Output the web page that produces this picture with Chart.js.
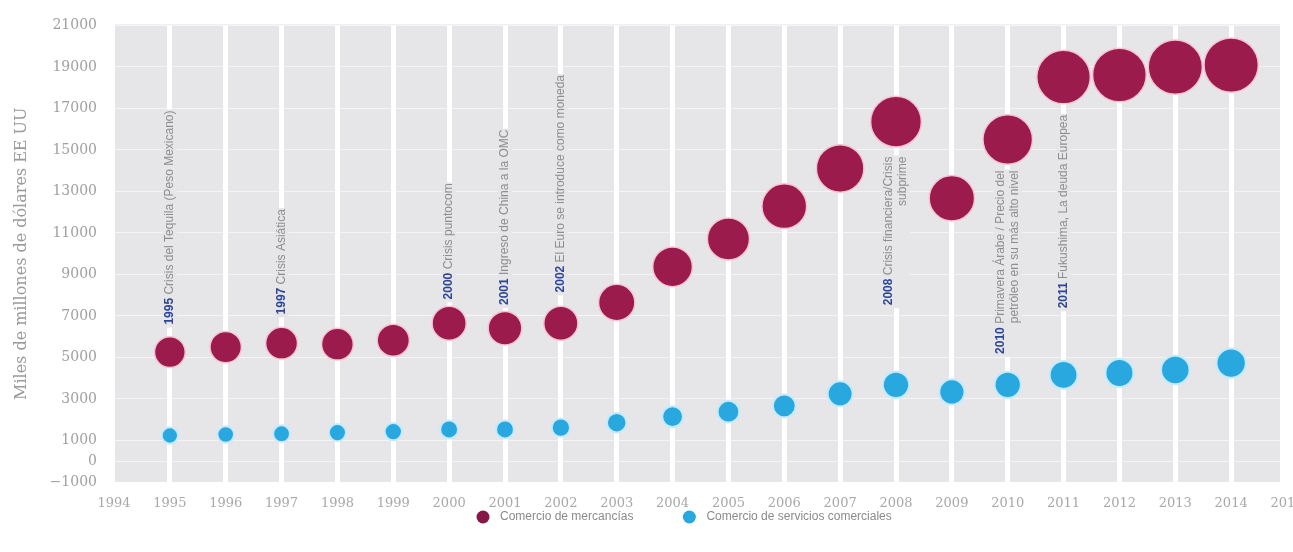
<!DOCTYPE html>
<html lang="es">
<head>
<meta charset="utf-8">
<title>Comercio mundial 1995-2014</title>
<script src="https://cdn.jsdelivr.net/npm/chart.js@4.4.1/dist/chart.umd.min.js"></script>
<style>
  html, body { margin: 0; padding: 0; background: #fff; }
  #wrap { width: 1293px; height: 552px; position: relative; }
</style>
</head>
<body>
<div id="wrap"><canvas id="chart"></canvas></div>
<script>
// años y valores en miles de millones de dólares EE UU
const years = [1995, 1996, 1997, 1998, 1999, 2000, 2001, 2002, 2003, 2004,
               2005, 2006, 2007, 2008, 2009, 2010, 2011, 2012, 2013, 2014];
const mercancias = [5260, 5500, 5690, 5640, 5830, 6650, 6410, 6650, 7650, 9370,
                    10710, 12290, 14110, 16360, 12670, 15500, 18510, 18610, 18990, 19090];
const servicios = [1240, 1290, 1330, 1380, 1430, 1530, 1530, 1620, 1860, 2150,
                   2390, 2670, 3250, 3680, 3340, 3680, 4160, 4250, 4400, 4730];
const yTicks = [-1000, 0, 1000, 3000, 5000, 7000, 9000, 11000, 13000, 15000, 17000, 19000, 21000];
const xTicks = [1994, 1995, 1996, 1997, 1998, 1999, 2000, 2001, 2002, 2003, 2004,
                2005, 2006, 2007, 2008, 2009, 2010, 2011, 2012, 2013, 2014, 2015];

// eventos: año, valor donde termina el texto (arriba) y líneas
const events = [
    { year: 1995, top: 16900, lines: ['Crisis del Tequila (Peso Mexicano)'] },
    { year: 1997, top: 12150, lines: ['Crisis Asiática'] },
    { year: 2000, top: 13390, lines: ['Crisis puntocom'] },
    { year: 2001, top: 15980, lines: ['Ingreso de China a la OMC'] },
    { year: 2002, top: 18610, lines: ['El Euro se introduce como moneda'] },
    { year: 2008, top: 14680, lines: ['Crisis financiera/Crisis', 'subprime'] },
    { year: 2010, top: 14010, lines: ['Primavera Árabe / Precio del', 'petróleo en su más alto nivel'] },
    { year: 2011, top: 16690, lines: ['Fukushima, La deuda Europea'] }
];

const BG = '#e6e6e8';
const SANS = '"Liberation Sans", Arial, sans-serif';
const EVENT_SIZE = 12;

// tamaño de burbuja según el valor
function bubbleRadius(v) {
    return 0.355 * Math.pow(v, 0.44);
}

function toPoints(values) {
    return years.map((yr, i) => ({ x: yr, y: values[i], r: bubbleRadius(values[i]) }));
}

// fondo gris del área de trazado
const backgroundPlugin = {
    id: 'plotBackground',
    beforeDraw(chart) {
        const { ctx, chartArea } = chart;
        ctx.save();
        ctx.fillStyle = BG;
        ctx.fillRect(chartArea.left + 1, chartArea.top - 1,
            chartArea.right - chartArea.left - 8, chartArea.bottom - chartArea.top + 1);
        ctx.restore();
    }
};

// textos verticales de los eventos
const eventsPlugin = {
    id: 'eventLabels',
    beforeDatasetsDraw(chart) {
        const { ctx, scales: { x, y } } = chart;
        const lh = 14;
        events.forEach(ev => {
            const px = x.getPixelForValue(ev.year);
            const py = y.getPixelForValue(ev.top);
            const yearTxt = ev.year + ' ';
            ctx.save();
            ctx.translate(px, py);
            ctx.rotate(-Math.PI / 2);
            ctx.textBaseline = 'middle';
            ctx.textAlign = 'left';
            ctx.font = 'bold ' + EVENT_SIZE + 'px ' + SANS;
            const yw = ctx.measureText(yearTxt).width;
            ctx.font = EVENT_SIZE + 'px ' + SANS;
            const widths = ev.lines.map((l, i) => ctx.measureText(l).width + (i === 0 ? yw : 0));
            const maxW = Math.max(...widths);
            const n = ev.lines.length;
            // tapar la franja blanca detrás del texto
            ctx.fillStyle = BG;
            ctx.fillRect(-maxW - 3, -n * lh / 2, maxW + 4, n * lh);
            ev.lines.forEach((line, i) => {
                const off = (i - (n - 1) / 2) * lh;
                let tx = -widths[i];
                if (i === 0) {
                    ctx.font = 'bold ' + EVENT_SIZE + 'px ' + SANS;
                    ctx.fillStyle = '#2d4594';
                    ctx.fillText(yearTxt, tx, off);
                    tx += yw;
                }
                ctx.font = EVENT_SIZE + 'px ' + SANS;
                ctx.fillStyle = '#8d8d8d';
                ctx.fillText(line, tx, off);
            });
            ctx.restore();
        });
    }
};

// leyenda inferior
const legendPlugin = {
    id: 'bottomLegend',
    afterDraw(chart) {
        const { ctx, chartArea } = chart;
        const cy = chartArea.bottom + 35;
        let cx = chartArea.left + 369;
        ctx.save();
        ctx.font = '12px ' + SANS;
        ctx.textBaseline = 'middle';
        ctx.textAlign = 'left';
        chart.data.datasets.forEach(ds => {
            ctx.beginPath();
            ctx.arc(cx, cy, 6.5, 0, Math.PI * 2);
            ctx.fillStyle = ds.legendColor;
            ctx.fill();
            ctx.fillStyle = '#8a8a8a';
            ctx.fillText(ds.label, cx + 17, cy);
            cx += 17 + ctx.measureText(ds.label).width + 56;
        });
        ctx.restore();
    }
};

new Chart(document.getElementById('chart'), {
    type: 'bubble',
    data: {
        datasets: [
            {
                label: 'Comercio de mercancías',
                data: toPoints(mercancias),
                backgroundColor: '#9b1b4c',
                borderColor: '#f3c4d4',
                borderWidth: 1.5,
                legendColor: '#861845'
            },
            {
                label: 'Comercio de servicios comerciales',
                data: toPoints(servicios),
                backgroundColor: '#28a8df',
                borderColor: '#c4eafb',
                borderWidth: 2,
                legendColor: '#28a8df'
            }
        ]
    },
    options: {
        responsive: true,
        maintainAspectRatio: false,
        animation: false,
        layout: { autoPadding: false, padding: { top: 23, right: 6, left: 0, bottom: 0 } },
        plugins: {
            legend: { display: false },
            tooltip: { enabled: false }
        },
        scales: {
            x: {
                type: 'linear',
                min: 1994,
                max: 2015,
                afterBuildTicks(scale) {
                    scale.ticks = xTicks.map(v => ({ value: v }));
                },
                afterFit(scale) {
                    scale.height = 70;
                    // la última etiqueta queda cortada en el borde, como en el original
                    scale.paddingRight = 0;
                    scale.paddingLeft = 0;
                },
                ticks: {
                    autoSkip: false,
                    maxRotation: 0,
                    padding: 14,
                    color: '#a8a8a8',
                    font: { family: '"DejaVu Serif", serif', size: 13 },
                    callback: v => String(v)
                },
                grid: {
                    color: c => (c.tick && c.tick.value >= 1995 && c.tick.value <= 2014) ? '#ffffff' : 'rgba(0,0,0,0)',
                    lineWidth: 5,
                    drawTicks: false
                },
                border: { display: false }
            },
            y: {
                min: -1000,
                max: 21000,
                afterBuildTicks(scale) {
                    scale.ticks = yTicks.map(v => ({ value: v }));
                },
                afterFit(scale) {
                    scale.width = 114;
                },
                ticks: {
                    padding: 17,
                    color: '#a0a0a0',
                    font: { family: '"DejaVu Serif", serif', size: 14 },
                    callback: v => (v < 0 ? '\u2212' + Math.abs(v) : String(v))
                },
                grid: {
                    color: 'rgba(255,255,255,0.55)',
                    lineWidth: 1,
                    drawTicks: false
                },
                border: { display: false },
                title: {
                    display: true,
                    text: 'Miles de millones de dólares EE UU',
                    color: '#9a9a9a',
                    font: { family: '"DejaVu Serif", serif', size: 16 },
                    padding: { top: 12, bottom: 0 }
                }
            }
        }
    },
    plugins: [backgroundPlugin, eventsPlugin, legendPlugin]
});
</script>
</body>
</html>
